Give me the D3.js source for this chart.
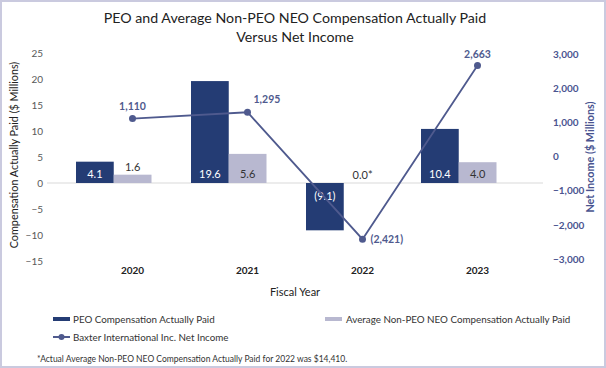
<!DOCTYPE html>
<html>
<head>
<meta charset="utf-8">
<script src="https://cdn.jsdelivr.net/npm/d3@7"></script>
<style>
  body { margin: 0; background: #fff; }
  svg text { font-family: Lato, "Open Sans", sans-serif; }
</style>
</head>
<body>
<div id="chart"></div>
<script>
const years = ["2020", "2021", "2022", "2023"];
const peoCap = [4.1, 19.6, -9.1, 10.4];
const neoCap = [1.6, 5.6, 0.0, 4.0];
const neoLabels = ["1.6", "5.6", "0.0*", "4.0"];
const netIncome = [1110, 1295, -2421, 2663];
const leftTicks = [25, 20, 15, 10, 5, 0, -5, -10, -15];
const rightTicks = [3000, 2000, 1000, 0, -1000, -2000, -3000];

const W = 606, H = 368;
const navy = "#243c74", lav = "#b8b8d0", lineCol = "#4f5a8e", axisBlue = "#4a5490", gray = "#595959";

const svg = d3.select("#chart").append("svg")
  .attr("width", W).attr("height", H);

svg.append("rect").attr("x", 1).attr("y", 1).attr("width", W - 2).attr("height", H - 2)
  .attr("fill", "#fff").attr("stroke", "#cacadf").attr("stroke-width", 2);

// title
svg.append("text").attr("x", 295).attr("y", 23).attr("text-anchor", "middle")
  .attr("font-size", 14.2).attr("fill", "#222").text("PEO and Average Non-PEO NEO Compensation Actually Paid");
svg.append("text").attr("x", 295).attr("y", 42).attr("text-anchor", "middle")
  .attr("font-size", 14.2).attr("fill", "#222").text("Versus Net Income");

const x = d3.scaleBand().domain(years).range([75, 535]);
const xs = d3.scaleBand().domain(["peo", "neo"]).range([-56.5, 19]);
const yL = d3.scaleLinear().domain([-15, 25]).range([261, 53]);
const yR = d3.scaleLinear().domain([-3000, 3000]).range([259, 54]);
const cx = d => x(d) + x.bandwidth() / 2;

// left axis
const gL = svg.append("g").attr("transform", "translate(43,0)")
  .call(d3.axisLeft(yL).tickValues(leftTicks).tickSize(0).tickPadding(0));
gL.select(".domain").remove();
gL.selectAll("text").attr("font-size", 10).attr("fill", gray).attr("font-family", "Lato, sans-serif");

// right axis
const gR = svg.append("g").attr("transform", "translate(553,0)")
  .call(d3.axisRight(yR).tickValues(rightTicks).tickSize(0).tickPadding(0).tickFormat(d3.format(",")));
gR.select(".domain").remove();
gR.selectAll("text").attr("font-size", 10).attr("fill", axisBlue).attr("font-weight", "bold")
  .attr("font-family", "Lato, sans-serif");

// axis titles
svg.append("text").attr("transform", "translate(18,155) rotate(-90)").attr("text-anchor", "middle")
  .attr("font-size", 10.8).attr("fill", "#222").text("Compensation Actually Paid ($ Millions)");
svg.append("text").attr("transform", "translate(594,157) rotate(-90)").attr("text-anchor", "middle")
  .attr("font-size", 10.8).attr("fill", axisBlue).attr("font-weight", "bold").text("Net Income ($ Millions)");

// zero line
svg.append("line").attr("x1", 47).attr("x2", 543).attr("y1", yL(0)).attr("y2", yL(0))
  .attr("stroke", "#d9d9d9").attr("stroke-width", 1);

// bars
const bars = svg.append("g");
bars.selectAll(".peo").data(years).enter().append("rect")
  .attr("x", (d) => cx(d) + xs("peo"))
  .attr("width", xs.bandwidth())
  .attr("y", (d, i) => yL(Math.max(0, peoCap[i])))
  .attr("height", (d, i) => Math.abs(yL(peoCap[i]) - yL(0)))
  .attr("fill", navy);
bars.selectAll(".neo").data(years).enter().append("rect")
  .attr("x", (d) => cx(d) + xs("neo"))
  .attr("width", xs.bandwidth())
  .attr("y", (d, i) => yL(Math.max(0, neoCap[i])))
  .attr("height", (d, i) => Math.abs(yL(neoCap[i]) - yL(0)))
  .attr("fill", lav);

// bar labels
const fmtNeg = v => v < 0 ? "(" + Math.abs(v).toFixed(1) + ")" : v.toFixed(1);
bars.selectAll(".peoLab").data(years).enter().append("text")
  .attr("x", d => cx(d) + xs("peo") + xs.bandwidth() / 2)
  .attr("y", (d, i) => peoCap[i] < 0 ? yL(0) + 17 : yL(0) - 5)
  .attr("text-anchor", "middle").attr("font-size", 11).attr("fill", "#fff")
  .text((d, i) => fmtNeg(peoCap[i]));
bars.selectAll(".neoLab").data(years).enter().append("text")
  .attr("x", d => cx(d) + xs("neo") + xs.bandwidth() / 2)
  .attr("y", (d, i) => neoCap[i] < 3 ? yL(neoCap[i]) - 4 : yL(0) - 5)
  .attr("text-anchor", "middle").attr("font-size", 11).attr("fill", "#333")
  .text((d, i) => neoLabels[i]);

// net income line
const line = d3.line().x(d => cx(d[0])).y(d => yR(d[1]));
const pts = years.map((d, i) => [d, netIncome[i]]);
svg.append("path").datum(pts).attr("d", line).attr("fill", "none")
  .attr("stroke", lineCol).attr("stroke-width", 1.8);
svg.selectAll(".pt").data(pts).enter().append("circle")
  .attr("cx", d => cx(d[0])).attr("cy", d => yR(d[1])).attr("r", 3.5).attr("fill", lineCol);

const niOff = [[0, -9, "middle"], [6, -9, "start"], [8, 4, "start"], [0, -8, "middle"]];
svg.selectAll(".niLab").data(pts).enter().append("text")
  .attr("x", (d, i) => cx(d[0]) + niOff[i][0])
  .attr("y", (d, i) => yR(d[1]) + niOff[i][1])
  .attr("text-anchor", (d, i) => niOff[i][2])
  .attr("font-size", 10.5).attr("font-weight", "bold").attr("fill", lineCol)
  .text(d => d[1] < 0 ? "(" + d3.format(",")(-d[1]) + ")" : d3.format(",")(d[1]));

// x labels
svg.selectAll(".yr").data(years).enter().append("text")
  .attr("x", d => cx(d)).attr("y", 274).attr("text-anchor", "middle")
  .attr("font-size", 10).attr("font-weight", "bold").attr("fill", "#222").text(d => d);
svg.append("text").attr("x", 295).attr("y", 296).attr("text-anchor", "middle")
  .attr("font-size", 11).attr("fill", "#222").text("Fiscal Year");

// legend
const lg = svg.append("g").attr("font-size", 9.8).attr("fill", "#333");
lg.append("rect").attr("x", 53).attr("y", 317).attr("width", 17).attr("height", 4).attr("fill", navy);
lg.append("text").attr("x", 73).attr("y", 323).text("PEO Compensation Actually Paid");
lg.append("rect").attr("x", 325).attr("y", 317).attr("width", 17).attr("height", 4).attr("fill", lav);
lg.append("text").attr("x", 346).attr("y", 323).text("Average Non-PEO NEO Compensation Actually Paid");
lg.append("line").attr("x1", 53).attr("x2", 70).attr("y1", 337).attr("y2", 337)
  .attr("stroke", lineCol).attr("stroke-width", 2);
lg.append("circle").attr("cx", 61.5).attr("cy", 337).attr("r", 3).attr("fill", lineCol);
lg.append("text").attr("x", 73).attr("y", 341).text("Baxter International Inc. Net Income");

svg.append("text").attr("x", 37).attr("y", 362).attr("font-size", 8.5).attr("fill", "#333")
  .text("*Actual Average Non-PEO NEO Compensation Actually Paid for 2022 was $14,410.");
</script>
</body>
</html>
